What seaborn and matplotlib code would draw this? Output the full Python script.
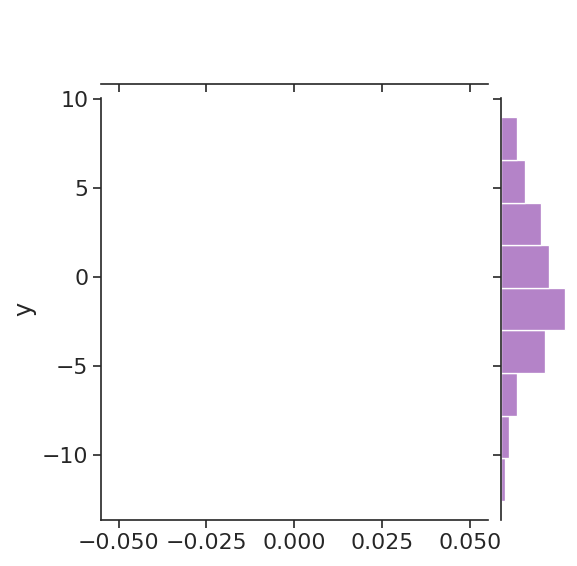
import numpy as np
import seaborn as sns
import matplotlib
matplotlib.use("Agg")
import matplotlib.pyplot as plt

# y-marginal histogram (bin edges and counts)
y_bin_edges = [-12.56, -10.17, -7.78, -5.39, -3.0, -0.61, 1.78, 4.17, 6.56, 8.95]
y_counts = [1, 2, 4, 11, 16, 12, 10, 6, 4]
y_centers = [(a + b) / 2 for a, b in zip(y_bin_edges[:-1], y_bin_edges[1:])]

hist_color = "#9b59b6"

sns.set_theme(style="ticks", font_scale=1.5)

g = sns.JointGrid(height=6)
sns.histplot(y=y_centers, weights=y_counts, bins=y_bin_edges, color=hist_color,
             ax=g.ax_marg_y)

g.ax_joint.set_xlim(-0.055, 0.055)
g.ax_joint.set_xlabel("")
g.ax_joint.set_ylabel("y")

fig = g.figure
fig.set_dpi(96)
fig.set_size_inches(577 / 96, 566 / 96)
fig.subplots_adjust(left=0.175, right=0.984, bottom=0.081, top=0.981)

fig.savefig("out.png", dpi=96)
